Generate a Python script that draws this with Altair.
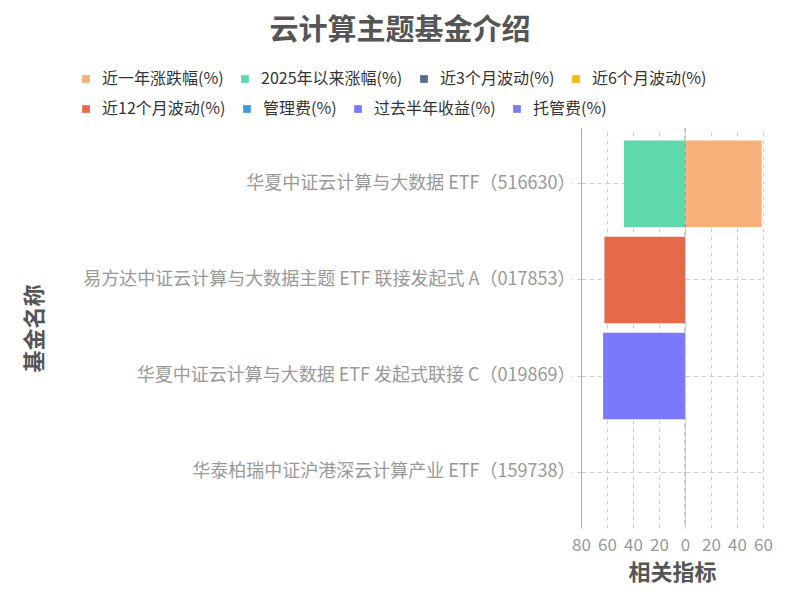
import altair as alt
import pandas as pd

funds = [
    "华夏中证云计算与大数据 ETF（516630）",
    "易方达中证云计算与大数据主题 ETF 联接发起式 A（017853）",
    "华夏中证云计算与大数据 ETF 发起式联接 C（019869）",
    "华泰柏瑞中证沪港深云计算产业 ETF（159738）",
]
series = [
    "近一年涨跌幅(%)", "2025年以来涨幅(%)", "近3个月波动(%)", "近6个月波动(%)",
    "近12个月波动(%)", "管理费(%)", "过去半年收益(%)", "托管费(%)",
]
colors = ["#F8AF7A", "#5FD9A9", "#5A6E8C", "#F5B90F",
          "#E8694A", "#3E9BE0", "#7B78FB", "#7D7DF0"]
x_ticks = [-80, -60, -40, -20, 0, 20, 40, 60]

# values per fund (in series order); None = not shown
fund1 = [59, -47, None, None, None, None, None, None]
fund2 = [None, None, None, None, -62, None, None, None]
fund3 = [None, None, None, None, None, None, -63, None]
fund4 = [None, None, None, None, None, None, None, None]

rows = []
for f, vals in zip(funds, [fund1, fund2, fund3, fund4]):
    for s, v in zip(series, vals):
        if v is not None:
            rows.append({"fund": f, "series": s, "value": v, "order": series.index(s)})
df = pd.DataFrame(rows)

FONT = "Noto Sans CJK SC"

y_enc = alt.Y("fund:N", sort=funds,
              scale=alt.Scale(domain=funds, paddingInner=0.1, paddingOuter=0.13),
              axis=alt.Axis(title="基金名称", titleFontSize=22, titleFontWeight="bold", titleColor="#555",
                            titleX=-547, titleY=200, titleAngle=-90, titleAlign="center",
                            titleBaseline="middle",
                            labelFontSize=18, labelColor="#999", labelPadding=-3,
                            labelLimit=700, domainColor="#aaa", tickColor="#c8ccd6", tickDash=[4, 4],
                            tickSize=9, gridDash=[4, 4], gridColor="#c8ccd6", grid=True))
x_scale = alt.Scale(domain=[-80, 60], nice=False)
x_axis = alt.Axis(title="相关指标", titleFontSize=22, titleFontWeight="bold", titleColor="#555",
                  titlePadding=9, values=x_ticks, tickCount=8,
                  labelExpr="abs(datum.value)", labelFontSize=17, labelColor="#999",
                  labelOverlap=False, labelFlush=False, labelPadding=9, domain=False, ticks=False,
                  gridDash=[4, 4], gridColor="#c8ccd6")
x_enc = alt.X("value:Q", stack="zero", scale=x_scale, axis=x_axis)


def legend(ly):
    return alt.Legend(title=None, orient="none", legendX=-503, legendY=ly,
                      direction="horizontal", symbolType="square", symbolSize=60,
                      symbolStrokeWidth=0, labelFontSize=16, labelColor="#333",
                      labelOffset=8, columnPadding=13)


bars1 = alt.Chart(df[df["order"] < 4]).mark_bar().encode(
    y=y_enc, x=x_enc,
    color=alt.Color("series:N", scale=alt.Scale(domain=series[:4], range=colors[:4]),
                    legend=legend(-57)),
    order=alt.Order("order:Q"),
)
bars2 = alt.Chart(df[df["order"] >= 4]).mark_bar().encode(
    y=y_enc, x=x_enc,
    color=alt.Color("series:N", scale=alt.Scale(domain=series[4:], range=colors[4:]),
                    legend=legend(-27)),
    order=alt.Order("order:Q"),
)

zero = alt.Chart(pd.DataFrame({"value": [0]})).mark_rule(color="#8a93ad", strokeDash=[4, 4]).encode(
    x=alt.X("value:Q", scale=x_scale, axis=x_axis))

chart = alt.layer(bars1, bars2, zero).resolve_scale(color="independent").properties(
    width=182, height=400,
    autosize="none",
    padding={"left": 573, "top": 120, "right": 17, "bottom": 85},
    title=alt.Title("云计算主题基金介绍", fontSize=29, fontWeight="bold", color="#555",
                    anchor="middle", frame="group", dx=-272, offset=25),
).configure(font=FONT).configure_view(stroke=None)

chart.save("out.html", embed_options={"renderer": "svg", "actions": False})
